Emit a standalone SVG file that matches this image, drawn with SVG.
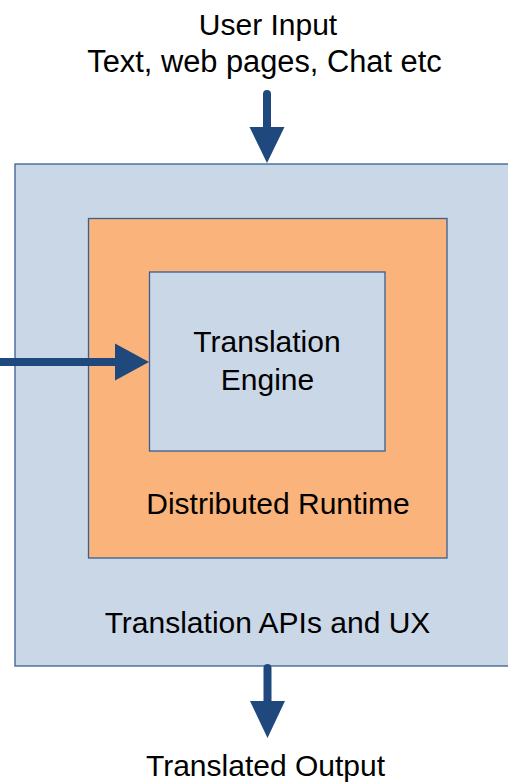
<svg xmlns="http://www.w3.org/2000/svg" width="508" height="783" viewBox="0 0 508 783">
  <style>
    .lbl { font-family: "Liberation Sans", Arial, sans-serif; font-size: 30px; fill: #000; text-anchor: middle; }
    .wide { font-size: 30.8px; }
    .blue { fill: #CAD7E7; stroke: #3A5F91; stroke-width: 1.3; }
    .orange { fill: #FAB37A; stroke: #3A5F91; stroke-width: 1.3; }
    .shaft { stroke: #1F497D; stroke-width: 8; stroke-linecap: round; fill: none; }
    .head { fill: #1F497D; }
  </style>
  <rect width="508" height="783" fill="#FFFFFF"/>
  <g id="apis-ux">
    <rect class="blue" x="15" y="164" width="504" height="502"/>
    <text class="lbl" x="267.5" y="633">Translation APIs and UX</text>
  </g>
  <g id="distributed-runtime">
    <rect class="orange" x="88.5" y="218.5" width="358.5" height="339.5"/>
    <text class="lbl" x="278" y="514">Distributed Runtime</text>
  </g>
  <g id="translation-engine">
    <rect class="blue" x="149.5" y="272" width="235.5" height="179"/>
    <text class="lbl" x="267" y="352">Translation</text>
    <text class="lbl" x="267.5" y="390">Engine</text>
  </g>
  <g id="user-input">
    <text class="lbl" x="268" y="35">User Input</text>
    <text class="lbl wide" x="264.5" y="72">Text, web pages, Chat etc</text>
  </g>
  <g id="translated-output">
    <text class="lbl" x="265.5" y="776">Translated Output</text>
  </g>
  <g id="connectors">
    <line class="shaft" x1="267" y1="94" x2="267" y2="130"/>
    <polygon class="head" points="249.5,127 284.5,127 267,163"/>
    <line class="shaft" x1="-10" y1="362" x2="118" y2="362"/>
    <polygon class="head" points="115,343.5 115,380.5 149,362"/>
    <line class="shaft" x1="267.5" y1="668" x2="267.5" y2="704"/>
    <polygon class="head" points="250,701 285,701 267.5,738"/>
  </g>
</svg>
